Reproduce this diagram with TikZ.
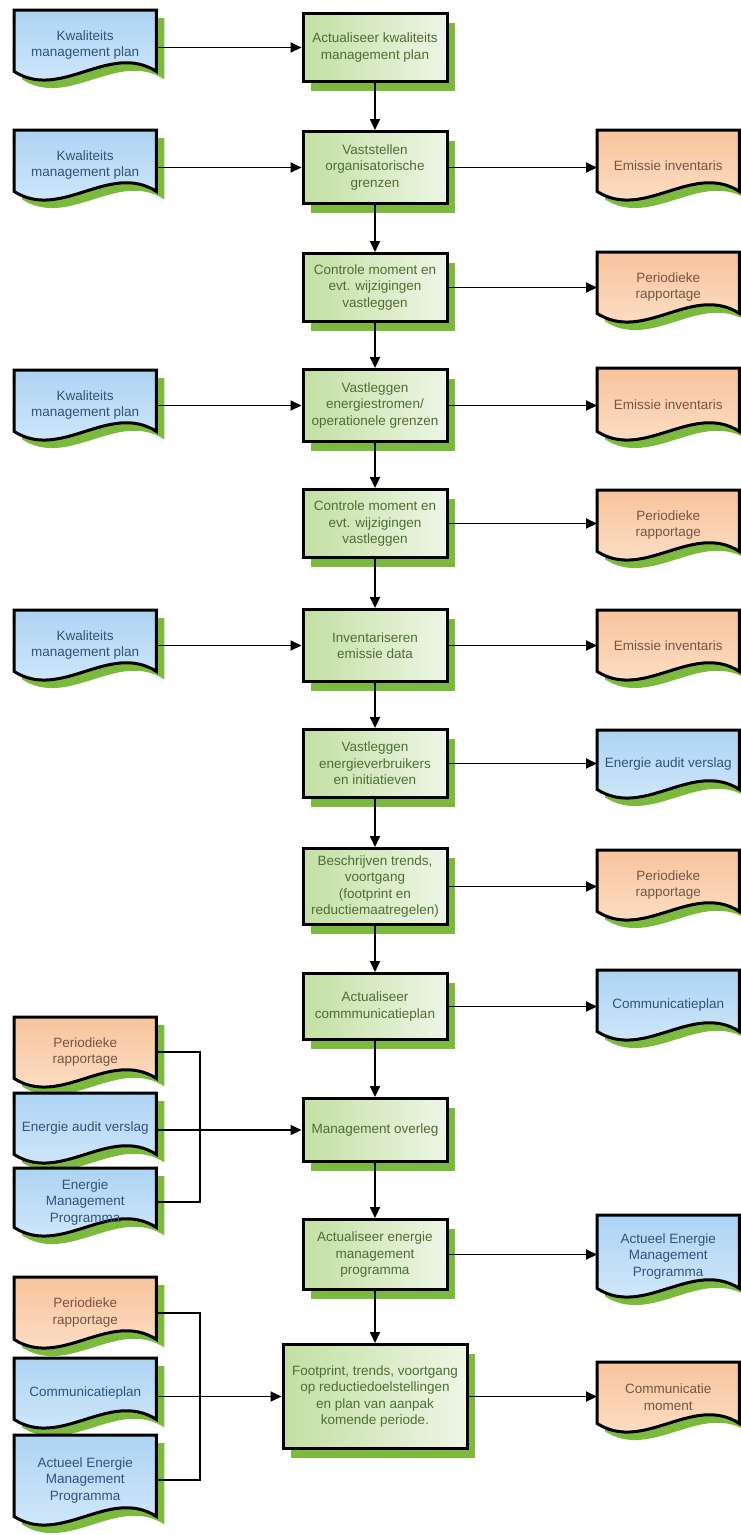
\documentclass[tikz,border=0pt]{standalone}
\usepackage{fontspec}
\setmainfont{Liberation Sans}
\usetikzlibrary{arrows.meta,calc,shadows}
\definecolor{boxL}{HTML}{C3DFA2}
\definecolor{boxR}{HTML}{EEF6E6}
\definecolor{boxT}{HTML}{4E6E34}
\definecolor{shadowc}{HTML}{7CBA3E}
\definecolor{blueT}{HTML}{ADD4F4}
\definecolor{blueB}{HTML}{D8EBFB}
\definecolor{blueTx}{HTML}{33527C}
\definecolor{orT}{HTML}{F8C49C}
\definecolor{orB}{HTML}{FDE4CF}
\definecolor{orTx}{HTML}{775545}
\pgfdeclarelayer{bglayer}
\pgfdeclarelayer{shadowlayer}
\pgfdeclarelayer{filllayer}
\pgfsetlayers{bglayer,shadowlayer,filllayer,main}
\newcommand\nodefont{\fontsize{13.5pt}{16.5pt}\selectfont}
\tikzset{
  procbox/.style={rectangle, draw=black, line width=3pt, left color=boxL, right color=boxR,
    text=boxT, align=center, font=\nodefont, inner sep=2pt, anchor=north,
    drop shadow={shadow xshift=8pt, shadow yshift=-9pt, fill=shadowc, opacity=1}},
  docnode/.style={rectangle, inner sep=0pt, align=center, font=\nodefont, anchor=north west},
  bluedoc/.style={top color=blueT, bottom color=blueB},
  orangedoc/.style={top color=orT, bottom color=orB},
  bluetext/.style={text=blueTx},
  orangetext/.style={text=orTx},
  arr/.style={line width=1.9pt, -{Triangle[length=11pt,width=10pt]}},
  ln/.style={line width=1.9pt},
}
% #1 node name, #2 fill style
\newcommand\docshape[2]{%
  \begin{pgfonlayer}{shadowlayer}
    \fill[shadowc] ($(#1.north west)+(8,8)$) -- ($(#1.south west)+(8,-1)$)
      .. controls ($(#1.south west)+(55,29)$) and ($(#1.south east)+(-39,-31)$) ..
      ($(#1.south east)+(8,-1)$) -- ($(#1.north east)+(8,8)$) -- cycle;
  \end{pgfonlayer}
  \begin{pgfonlayer}{filllayer}
    \path[#2, draw=black, line width=3pt] (#1.north west) -- ($(#1.south west)+(0,-9)$)
      .. controls ($(#1.south west)+(47,21)$) and ($(#1.south east)+(-47,-39)$) ..
      ($(#1.south east)+(0,-9)$) -- (#1.north east) -- cycle;
  \end{pgfonlayer}}
% #1 name, #2 x, #3 top, #4 height, #5 colour (blue/orange), #6 text
\newcommand\docnode[6]{%
  \node[docnode, minimum width=142pt, minimum height=#4pt, #5text] (#1) at (#2,#3) {#6};
  \docshape{#1}{#5doc}}
\begin{document}
\begin{tikzpicture}[x=1pt,y=-1pt]
\begin{pgfonlayer}{bglayer}
\fill[white] (0,0) rectangle (741,1535);
\end{pgfonlayer}
\useasboundingbox (0,0) rectangle (741,1535);

% process boxes
\node[procbox, minimum width=144pt, minimum height=68pt] (b1) at (375,12) {Actualiseer kwaliteits\\management plan};
\node[procbox, minimum width=144pt, minimum height=72pt] (b2) at (375,130) {Vaststellen\\organisatorische\\grenzen};
\node[procbox, minimum width=144pt, minimum height=68pt] (b3) at (375,252) {Controle moment en\\evt. wijzigingen\\vastleggen};
\node[procbox, minimum width=144pt, minimum height=72pt] (b4) at (375,368) {Vastleggen\\energiestromen/\\operationele grenzen};
\node[procbox, minimum width=144pt, minimum height=68pt] (b5) at (375,488) {Controle moment en\\evt. wijzigingen\\vastleggen};
\node[procbox, minimum width=144pt, minimum height=72pt] (b6) at (375,608) {Inventariseren\\emissie data};
\node[procbox, minimum width=144pt, minimum height=68pt] (b7) at (375,728) {Vastleggen\\energieverbruikers\\en initiatieven};
\node[procbox, minimum width=144pt, minimum height=76pt] (b8) at (375,847) {Beschrijven trends,\\voortgang\\(footprint en\\reductiemaatregelen)};
\node[procbox, minimum width=144pt, minimum height=66pt] (b9) at (375,972) {Actualiseer\\commmunicatieplan};
\node[procbox, minimum width=144pt, minimum height=63pt] (b10) at (375,1097) {Management overleg};
\node[procbox, minimum width=144pt, minimum height=70pt] (b11) at (375,1218) {Actualiseer energie\\management\\programma};
\node[procbox, minimum width=184pt, minimum height=104pt] (b12) at (375,1343) {Footprint, trends, voortgang\\op reductiedoelstellingen\\en plan van aanpak\\komende periode.};

% left documents
\docnode{l1}{14}{10}{70}{blue}{Kwaliteits\\management plan}
\docnode{l2}{14}{130}{70}{blue}{Kwaliteits\\management plan}
\docnode{l4}{14}{370}{70}{blue}{Kwaliteits\\management plan}
\docnode{l6}{14}{610}{70}{blue}{Kwaliteits\\management plan}
\docnode{ga1}{14}{1017}{70}{orange}{Periodieke\\rapportage}
\docnode{ga2}{14}{1093}{70}{blue}{Energie audit verslag}
\docnode{ga3}{14}{1168}{68}{blue}{Energie\\Management\\Programma}
\docnode{gb1}{14}{1277}{71}{orange}{Periodieke\\rapportage}
\docnode{gb2}{14}{1358}{70}{blue}{Communicatieplan}
\docnode{gb3}{14}{1435}{90}{blue}{Actueel Energie\\Management\\Programma}

% right documents
\docnode{r2}{597}{130}{70}{orange}{Emissie inventaris}
\docnode{r3}{597}{252}{70}{orange}{Periodieke\\rapportage}
\docnode{r4}{597}{368}{72}{orange}{Emissie inventaris}
\docnode{r5}{597}{490}{70}{orange}{Periodieke\\rapportage}
\docnode{r6}{597}{610}{70}{orange}{Emissie inventaris}
\docnode{r7}{597}{730}{68}{blue}{Energie audit verslag}
\docnode{r8}{597}{850}{70}{orange}{Periodieke\\rapportage}
\docnode{r9}{597}{970}{70}{blue}{Communicatieplan}
\docnode{r11}{597}{1215}{82}{blue}{Actueel Energie\\Management\\Programma}
\docnode{r12}{597}{1362}{70}{orange}{Communicatie\\moment}

% vertical flow
\foreach \a/\b in {b1/b2,b2/b3,b3/b4,b4/b5,b5/b6,b6/b7,b7/b8,b8/b9,b9/b10,b10/b11,b11/b12}
  \draw[arr] (\a.south) -- (\b.north);

% left inputs
\draw[arr] (l1.east |- b1.west) -- (b1.west);
\draw[arr] (l2.east |- b2.west) -- (b2.west);
\draw[arr] (l4.east |- b4.west) -- (b4.west);
\draw[arr] (l6.east |- b6.west) -- (b6.west);

% right outputs
\foreach \a/\b in {b2/r2,b3/r3,b4/r4,b5/r5,b6/r6,b7/r7,b8/r8,b9/r9,b11/r11,b12/r12}
  \draw[arr] (\a.east) -- (\a.east -| \b.west);

% group inputs
\coordinate (ja) at (200,1128);
\draw[ln] (ga1.east) -| (ja) |- (ga3.east);
\draw[arr] (ga2.east |- b10.west) -- (b10.west);
\coordinate (jb) at (200,1395);
\draw[ln] (gb1.east) -| (jb) |- (gb3.east);
\draw[arr] (gb2.east |- b12.west) -- (b12.west);
\end{tikzpicture}
\end{document}
